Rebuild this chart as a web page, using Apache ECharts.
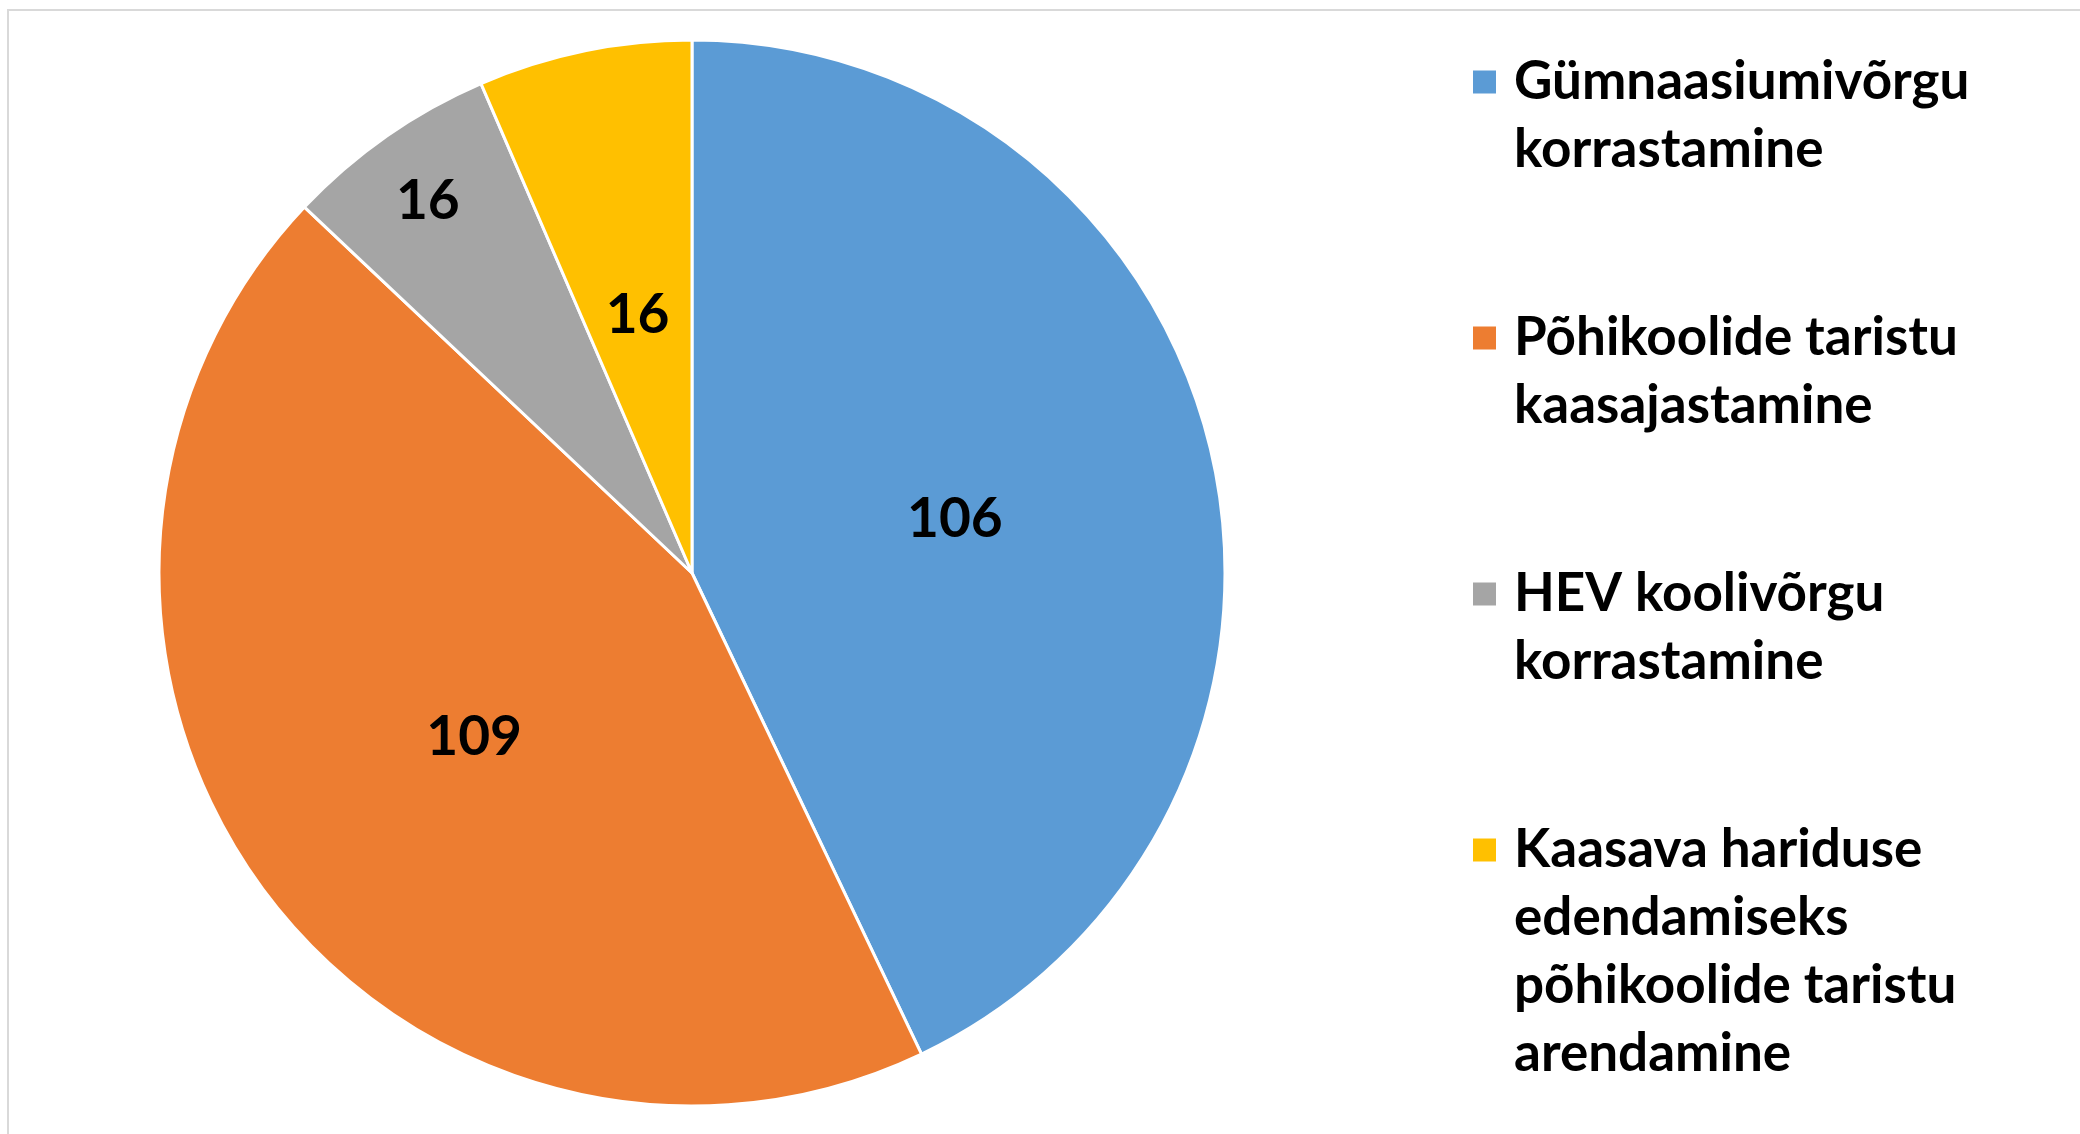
<!DOCTYPE html>
<html>
<head>
<meta charset="utf-8">
<script src="https://cdn.jsdelivr.net/npm/echarts@6/dist/echarts.min.js"></script>
<style>
  html, body { margin: 0; padding: 0; background: #fff; }
  #chart { width: 2080px; height: 1134px; }
</style>
</head>
<body>
<div id="chart"></div>
<script>
const categories = [
    'Gümnaasiumivõrgu\nkorrastamine',
    'Põhikoolide taristu\nkaasajastamine',
    'HEV koolivõrgu\nkorrastamine',
    'Kaasava hariduse\nedendamiseks\npõhikoolide taristu\narendamine'
];
const values = [106, 109, 16, 16];
const colors = ['#5B9BD5', '#ED7D31', '#A5A5A5', '#FFC000'];

const FONT = 'Lato';
const LINE = 68;
const pieCenter = [692, 573];
const legendFirstLine = [82, 338, 594, 850]; // y of each legend marker

// one legend per item; blank lines on top keep the marker beside the first line
const legends = categories.map(function (name, i) {
    const n = name.split('\n').length;
    return {
        orient: 'vertical',
        left: 1471,
        top: legendFirstLine[i] - (2 * n - 1) * LINE / 2,
        padding: 0,
        itemWidth: 25,
        itemHeight: 25,
        icon: 'rect',
        data: [name],
        formatter: function (s) {
            return '\n'.repeat(n - 1) + s;
        },
        textStyle: {
            fontFamily: FONT,
            fontWeight: 'bold',
            fontSize: 53,
            lineHeight: LINE,
            padding: [0, 0, 0, 12],
            color: '#000'
        }
    };
});

let chart = echarts.init(document.getElementById('chart'));

const option = {
    backgroundColor: '#fff',
    animation: false,
    color: colors,
    graphic: [{
        type: 'rect',
        shape: { x: 8, y: 10, width: 2200, height: 1300 },
        style: { fill: null, stroke: '#d9d9d9', lineWidth: 2 }
    }],
    legend: legends,
    series: [{
        type: 'pie',
        center: pieCenter,
        radius: 533,
        startAngle: 90,
        clockwise: true,
        avoidLabelOverlap: false,
        itemStyle: { borderColor: '#fff', borderWidth: 3 },
        label: {
            show: true,
            position: 'inside',
            formatter: '{c}',
            fontFamily: FONT,
            fontWeight: 'bold',
            fontSize: 55,
            color: '#000'
        },
        labelLine: { show: false },
        emphasis: { disabled: true },
        // nudge labels down a little; the small grey slice's label goes out toward the rim
        labelLayout: function (params) {
            if (params.dataIndex !== 2) return { dy: 6 };
            const r = params.labelRect;
            const lx = r.x + r.width / 2;
            const ly = r.y + r.height / 2;
            return {
                dx: (lx - pieCenter[0]) * 0.71,
                dy: (ly - pieCenter[1]) * 0.71 + 6
            };
        },
        data: categories.map(function (name, i) {
            return { name: name, value: values[i] };
        })
    }]
};

chart.setOption(option);
</script>
</body>
</html>
